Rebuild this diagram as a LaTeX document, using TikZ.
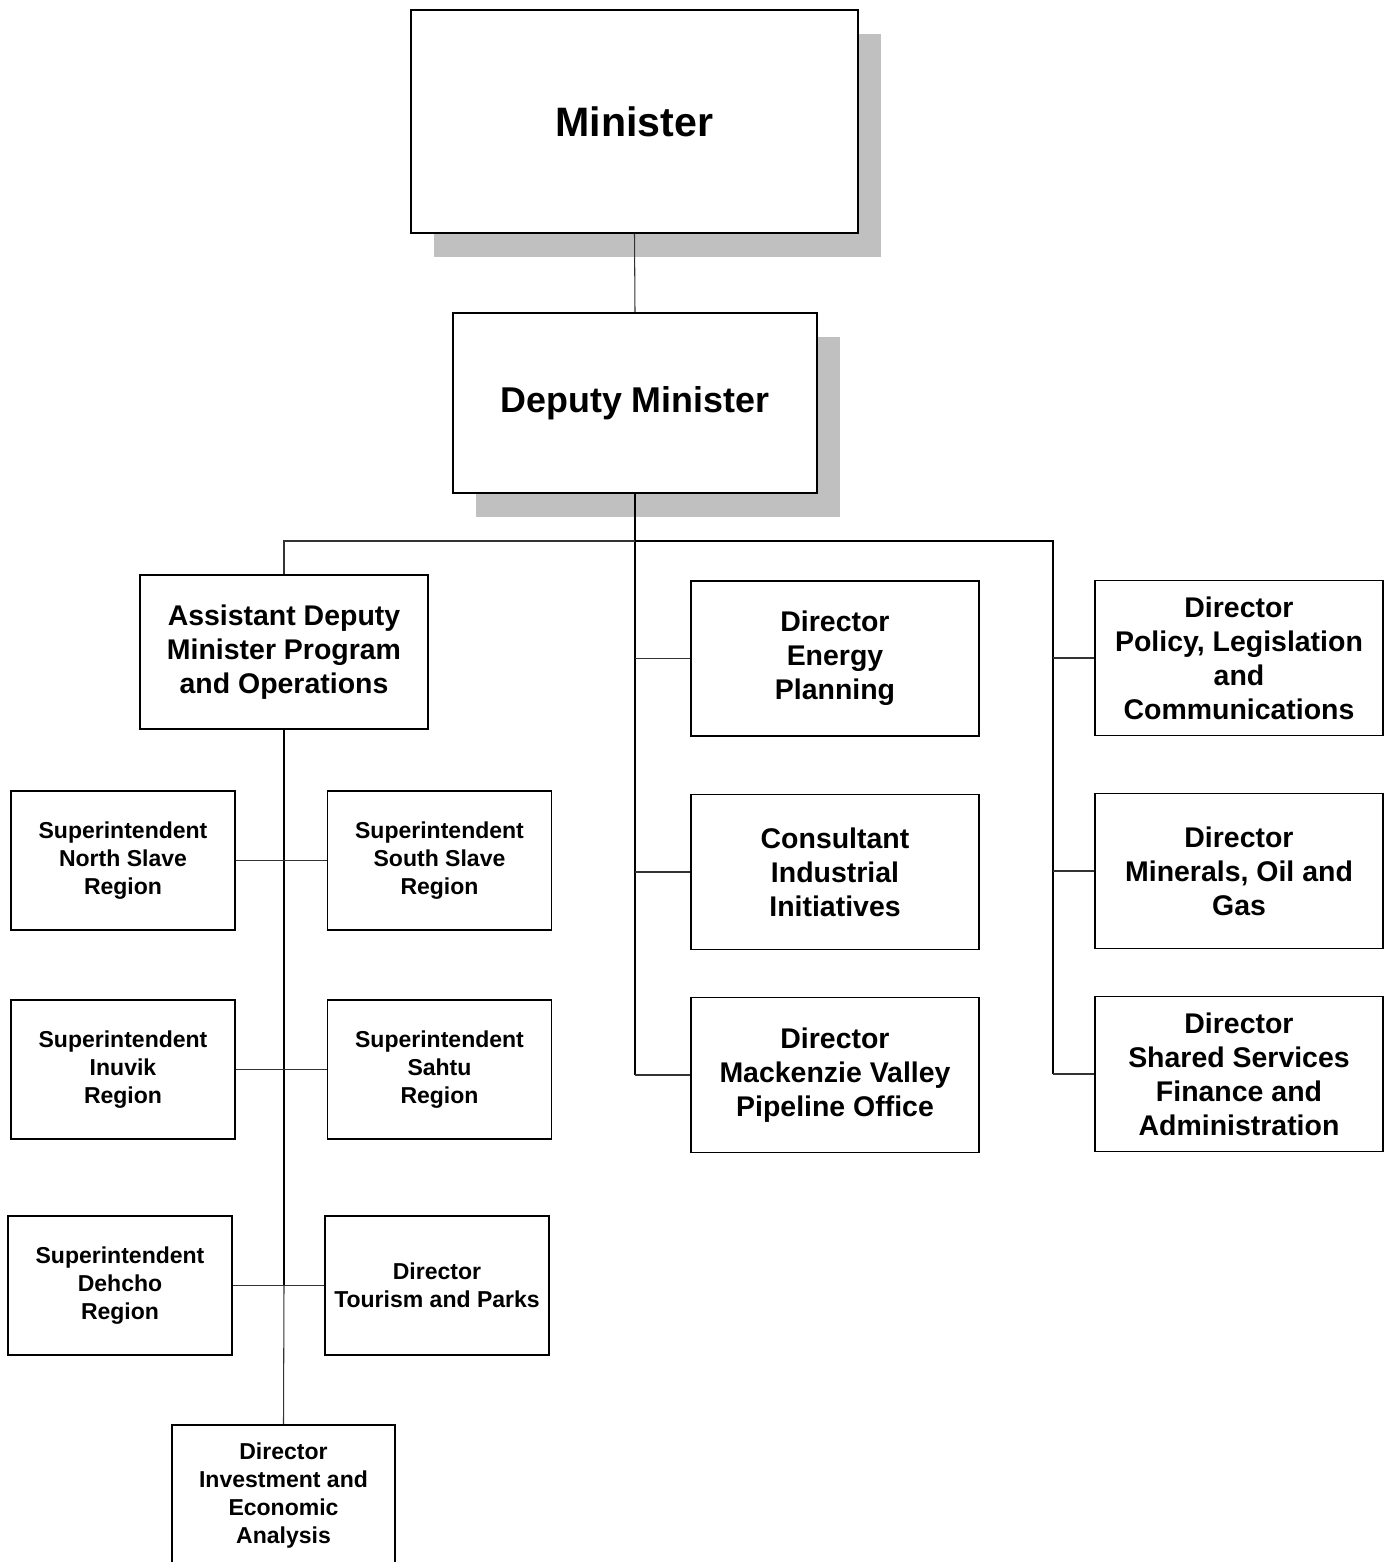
\documentclass[tikz,border=0pt]{standalone}
\usepackage{fontspec}
\setmainfont{Liberation Sans}
\usepackage{xcolor}
\usetikzlibrary{positioning, shadows, calc}
\definecolor{shadowgray}{HTML}{C0C0C0}

\begin{document}
\begin{tikzpicture}[
    x=0.02cm, y=-0.02cm,
    box/.style={draw, line width=1.1pt, fill=white, align=center, inner sep=0pt,
        font=\bfseries\fontsize{16.2}{19.3}\selectfont,
        minimum width=5.76cm, minimum height=3.1cm},
    smallbox/.style={box, font=\bfseries\fontsize{13.1}{15.9}\selectfont,
        minimum width=4.48cm, minimum height=2.78cm},
    topbox/.style={box, drop shadow={shadow xshift=0.46cm, shadow yshift=-0.48cm,
        fill=shadowgray, opacity=1}},
    trunk/.style={line width=1.1pt},
    branch/.style={line width=0.6pt, black!80}
]
\useasboundingbox (0,0) rectangle (1390,1562);

% Top of the chart
\node[topbox, minimum width=8.94cm, minimum height=4.46cm,
    font=\bfseries\fontsize{23.4}{28}\selectfont] (min) at (634.5,121.5) {Minister};
\node[topbox, minimum width=7.28cm, minimum height=3.6cm,
    font=\bfseries\fontsize{20.4}{24}\selectfont] (dm) at (635,403) {Deputy Minister};

% Assistant deputy minister and regions
\node[box, minimum height=3.08cm] (adm) at (284,652) {Assistant Deputy\\Minister Program\\and Operations};

\node[smallbox] (nslave) at (123,860.5) {Superintendent\\North Slave\\Region};
\node[smallbox] (sslave) at (439.5,860.5) {Superintendent\\South Slave\\Region};
\node[smallbox] (inuvik) at (123,1069.5) {Superintendent\\Inuvik\\Region};
\node[smallbox] (sahtu) at (439.5,1069.5) {Superintendent\\Sahtu\\Region};
\node[smallbox] (dehcho) at (120,1285.5) {Superintendent\\Dehcho\\Region};
\node[smallbox] (tourism) at (437,1285.5) {Director\\Tourism and Parks};
\node[smallbox, minimum width=4.46cm, minimum height=2.82cm] (invest) at (283.5,1495.5) {Director\\Investment and\\Economic\\Analysis};

% Middle column
\node[box] (energy) at (835,658.5) {Director\\Energy\\Planning};
\node[box] (consult) at (835,872) {Consultant\\Industrial\\Initiatives};
\node[box] (mack) at (835,1075) {Director\\Mackenzie Valley\\Pipeline Office};

% Right column
\node[box] (policy) at (1239,658) {Director\\Policy, Legislation\\and\\Communications};
\node[box] (minerals) at (1239,871) {Director\\Minerals, Oil and\\Gas};
\node[box] (shared) at (1239,1074) {Director\\Shared Services\\Finance and\\Administration};

% Connectors
\coordinate (split) at (635,541);
\coordinate (rjoin) at (1053,541);
\coordinate (ljoin) at (284,541);

\draw[branch] (min.south) -- (dm.north);
\draw[trunk] (dm.south) -- (mack.west -| dm.south);
\draw[trunk] (split) -- (rjoin) -- (shared.west -| rjoin);
\draw[branch] (split) -- (ljoin) -- (adm.north);

\draw[branch] (energy.west) -- (energy.west -| split);
\draw[branch] (consult.west) -- (consult.west -| split);
\draw[branch] (mack.west) -- (mack.west -| split);
\draw[branch] (policy.west) -- (policy.west -| rjoin);
\draw[branch] (minerals.west) -- (minerals.west -| rjoin);
\draw[branch] (shared.west) -- (shared.west -| rjoin);

\draw[trunk] (adm.south) -- (dehcho.east -| adm.south);
\draw[branch] (dehcho.east -| adm.south) -- (invest.north);
\draw[branch] (nslave.east) -- (sslave.west);
\draw[branch] (inuvik.east) -- (sahtu.west);
\draw[branch] (dehcho.east) -- (tourism.west);

\end{tikzpicture}
\end{document}
